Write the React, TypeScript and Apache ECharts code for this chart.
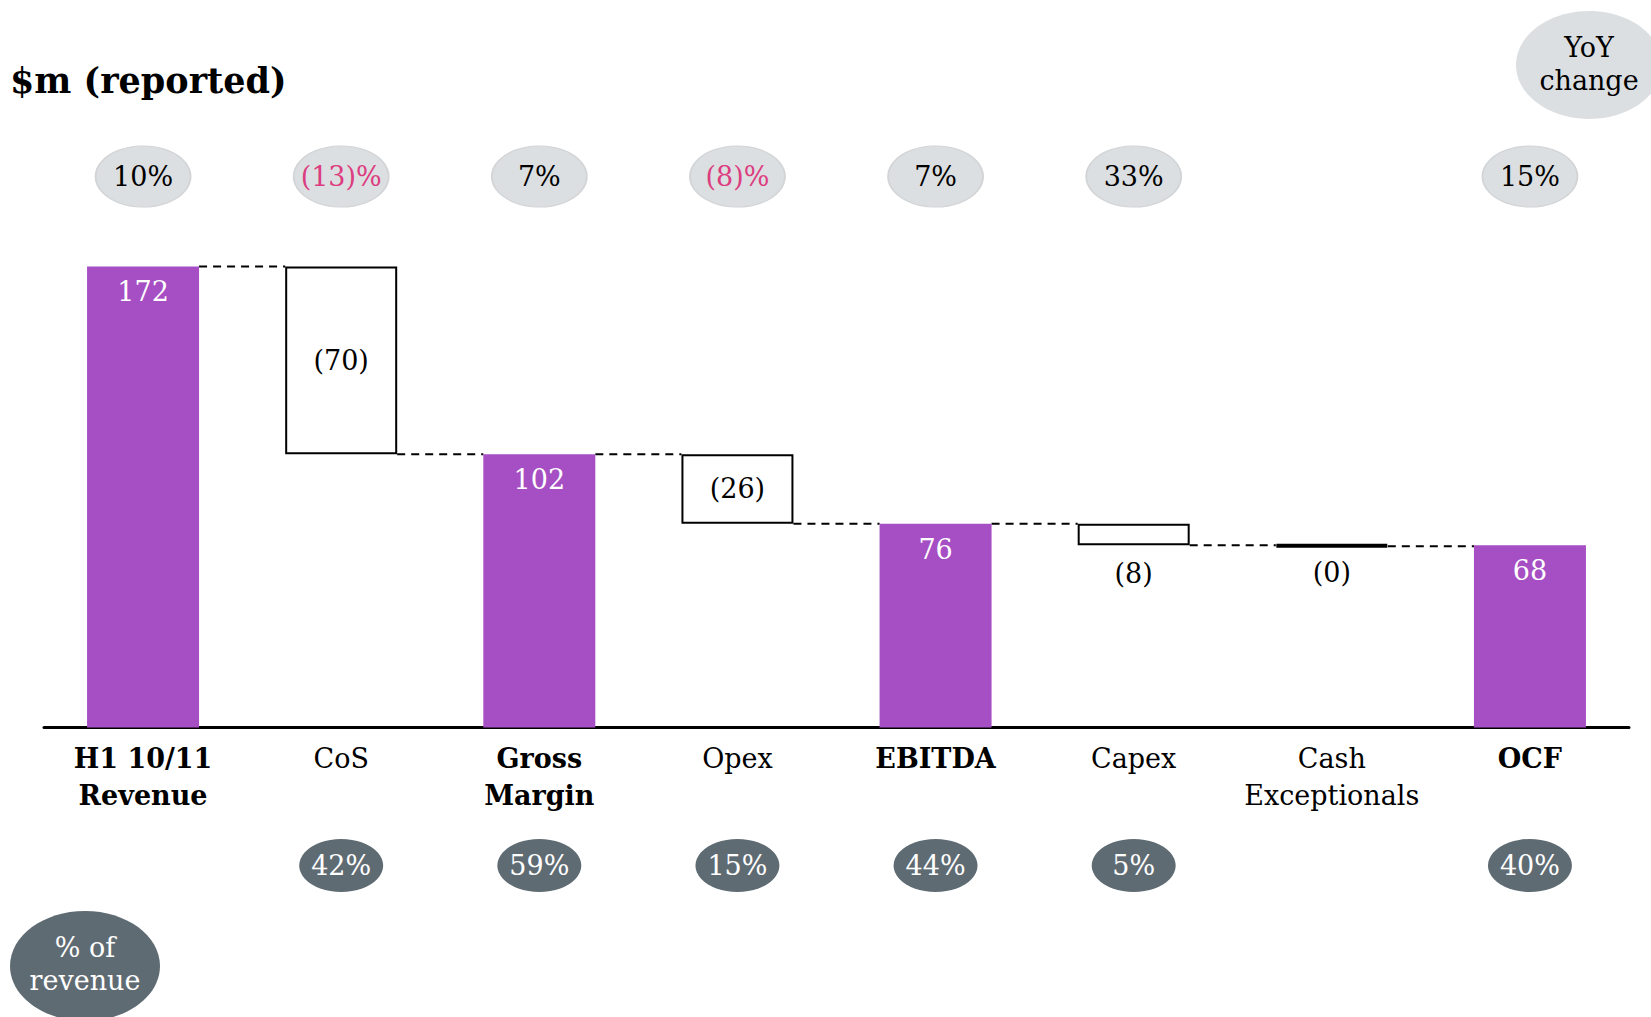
import React, { useEffect, useRef } from "react";
import * as echarts from "echarts";

const categories = [
  "H1 10/11\nRevenue",
  "CoS",
  "Gross\nMargin",
  "Opex",
  "EBITDA",
  "Capex",
  "Cash\nExceptionals",
  "OCF",
];
const isTotal = [true, false, true, false, true, false, false, true];
// $m, negative = reduction (cash exceptionals is a small amount that rounds to 0)
const amounts = [172, -70, 102, -26, 76, -8, -0.4, 68];
const yoyChange: (number | null)[] = [10, -13, 7, -8, 7, 33, null, 15];
const pctOfRevenue: (number | null)[] = [null, 42, 59, 15, 44, 5, null, 40];

const F = '"DejaVu Serif", Georgia, serif';
const PURPLE = "#a64ec3";
const PINK = "#dc3d80";
const LIGHT = "#dcdfe1";
const DARK = "#5f6b73";
const BAR_W = 112;

export default function App() {
  const ref = useRef<HTMLDivElement>(null);

  useEffect(() => {
    if (!ref.current) return;
    const chart = echarts.init(ref.current, undefined, { renderer: "svg" });

    const baseData: number[] = [];
    const totalData: (number | string)[] = [];
    const decData: any[] = [];
    const connectors: number[][] = [];
    let level = 0;
    amounts.forEach((v, i) => {
      if (isTotal[i]) {
        baseData.push(0);
        totalData.push(v);
        decData.push("-");
        level = v;
      } else {
        const next = level + v;
        baseData.push(next);
        totalData.push("-");
        const mag = -v;
        const tiny = mag < 1;
        const big = mag >= 20;
        decData.push({
          value: mag,
          itemStyle: tiny
            ? { color: "#000", borderColor: "#000", borderWidth: 4 }
            : undefined,
          label: big
            ? { position: "inside" }
            : { position: "bottom", distance: tiny ? 11 : 15 },
        });
        level = next;
      }
      if (i < amounts.length - 1) connectors.push([i, level]);
    });

    const fmtPct = (v: number) => (v < 0 ? `(${Math.abs(v)})%` : `${v}%`);

    const topBubbles = yoyChange
      .map((v, i) =>
        v == null
          ? null
          : {
              value: [i, 0],
              label: { formatter: fmtPct(v), color: v < 0 ? PINK : "#000" },
            }
      )
      .filter(Boolean);
    const bottomBubbles = pctOfRevenue
      .map((v, i) =>
        v == null ? null : { value: [i, 0], label: { formatter: `${v}%` } }
      )
      .filter(Boolean);

    const gridSide = { left: 44, right: 22 };

    const option: any = {
      animation: false,
      textStyle: { fontFamily: F },
      grid: [
        { ...gridSide, top: 191.4, bottom: 289.4 },
        { ...gridSide, top: 146, height: 61 },
        { ...gridSide, top: 839, height: 53 },
      ],
      xAxis: [
        {
          type: "category",
          data: categories,
          gridIndex: 0,
          axisLine: { show: true, lineStyle: { color: "#000", width: 3 } },
          axisTick: { show: false },
          axisLabel: {
            interval: 0,
            margin: 12,
            color: "#000",
            fontFamily: F,
            fontSize: 27,
            lineHeight: 37,
            formatter: (val: string, idx: number) =>
              isTotal[idx]
                ? val
                    .split("\n")
                    .map((s) => `{b|${s}}`)
                    .join("\n")
                : val,
            rich: {
              b: {
                fontWeight: "bold",
                fontSize: 27,
                lineHeight: 37,
                fontFamily: F,
                color: "#000",
              },
            },
          },
        },
        { type: "category", data: categories, gridIndex: 1, show: false },
        { type: "category", data: categories, gridIndex: 2, show: false },
      ],
      yAxis: [
        { type: "value", min: 0, max: 200, gridIndex: 0, show: false },
        { type: "value", min: -1, max: 1, gridIndex: 1, show: false },
        { type: "value", min: -1, max: 1, gridIndex: 2, show: false },
      ],
      series: [
        {
          type: "bar",
          stack: "w",
          barWidth: BAR_W,
          silent: true,
          itemStyle: { color: "rgba(0,0,0,0)" },
          data: baseData,
        },
        {
          type: "bar",
          stack: "w",
          barWidth: BAR_W,
          silent: true,
          itemStyle: { color: PURPLE },
          label: {
            show: true,
            position: "insideTop",
            distance: 12,
            color: "#fff",
            fontSize: 27,
            fontFamily: F,
          },
          data: totalData,
        },
        {
          type: "bar",
          stack: "w",
          barWidth: BAR_W,
          silent: true,
          itemStyle: { color: "#fff", borderColor: "#000", borderWidth: 2 },
          label: {
            show: true,
            color: "#000",
            fontSize: 27,
            fontFamily: F,
            formatter: (p: any) => `(${Math.round(p.value)})`,
          },
          data: decData,
        },
        {
          type: "custom",
          silent: true,
          xAxisIndex: 0,
          yAxisIndex: 0,
          data: connectors,
          renderItem: (params: any, api: any) => {
            const i = api.value(0);
            const lv = api.value(1);
            const a = api.coord([i, lv]);
            const b = api.coord([i + 1, lv]);
            return {
              type: "line",
              shape: {
                x1: a[0] + BAR_W / 2,
                y1: a[1],
                x2: b[0] - BAR_W / 2,
                y2: b[1],
              },
              style: { stroke: "#000", lineWidth: 2, lineDash: [8, 6] },
            };
          },
        },
        {
          type: "scatter",
          xAxisIndex: 1,
          yAxisIndex: 1,
          silent: true,
          symbol: "circle",
          symbolSize: [95, 61],
          itemStyle: {
            color: LIGHT,
            opacity: 1,
            borderColor: "#d2d4d6",
            borderWidth: 1.5,
          },
          label: {
            show: true,
            position: "inside",
            fontSize: 27,
            fontFamily: F,
          },
          data: topBubbles,
        },
        {
          type: "scatter",
          xAxisIndex: 2,
          yAxisIndex: 2,
          silent: true,
          symbol: "circle",
          symbolSize: [84, 53],
          itemStyle: { color: DARK, opacity: 1 },
          label: {
            show: true,
            position: "inside",
            color: "#fff",
            fontSize: 27,
            fontFamily: F,
          },
          data: bottomBubbles,
        },
      ],
      graphic: [
        {
          type: "text",
          x: 10,
          y: 80,
          style: {
            text: "$m (reported)",
            font: `bold 35px ${F}`,
            fill: "#000",
            verticalAlign: "middle",
          },
        },
        {
          type: "ellipse",
          shape: { cx: 1589, cy: 65, rx: 73, ry: 54 },
          style: { fill: LIGHT },
        },
        {
          type: "text",
          x: 1589,
          y: 64,
          style: {
            text: "YoY\nchange",
            font: `27px ${F}`,
            lineHeight: 33,
            fill: "#000",
            align: "center",
            verticalAlign: "middle",
          },
        },
        {
          type: "ellipse",
          shape: { cx: 85, cy: 966, rx: 75, ry: 55 },
          style: { fill: DARK },
        },
        {
          type: "text",
          x: 85,
          y: 964,
          style: {
            text: "% of\nrevenue",
            font: `27px ${F}`,
            lineHeight: 33,
            fill: "#fff",
            align: "center",
            verticalAlign: "middle",
          },
        },
      ],
    };

    chart.setOption(option);
    return () => chart.dispose();
  }, []);

  return (
    <div
      ref={ref}
      style={{
        position: "fixed",
        left: 0,
        top: 0,
        width: 1651,
        height: 1017,
        background: "#fff",
      }}
    />
  );
}
